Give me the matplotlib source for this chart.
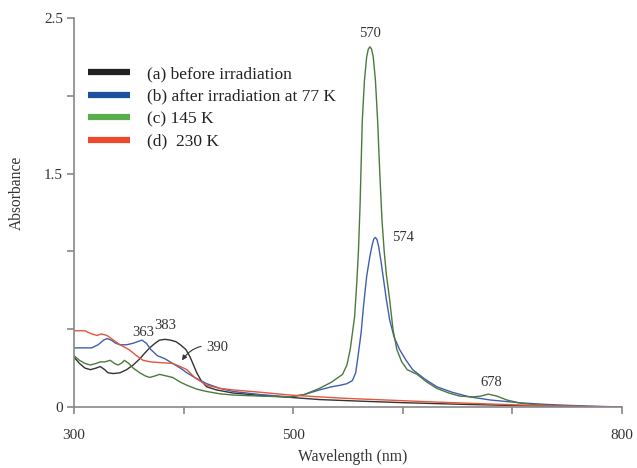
import matplotlib
matplotlib.use("Agg")
import matplotlib.pyplot as plt
from matplotlib.lines import Line2D

plt.rcParams['font.family'] = ['Liberation Serif', 'DejaVu Serif']

# (a) before irradiation
wl_a = [300, 305, 310, 315, 320, 324, 328, 331, 336, 342, 348, 354, 360, 365, 369, 374, 378,
        383, 388, 393, 397, 402, 406, 409, 412, 416, 421, 430, 445, 470, 497, 524, 560, 600,
        650, 700, 750, 800]
abs_a = [0.32, 0.28, 0.25, 0.24, 0.25, 0.26, 0.24, 0.22, 0.215, 0.22, 0.24, 0.27, 0.31, 0.35,
         0.38, 0.41, 0.43, 0.435, 0.43, 0.42, 0.40, 0.37, 0.32, 0.27, 0.22, 0.17, 0.13, 0.11,
         0.09, 0.075, 0.062, 0.048, 0.038, 0.028, 0.018, 0.01, 0.004, 0.0]

# (b) after irradiation at 77 K
wl_b = [300, 308, 316, 322, 327, 330, 334, 338, 342, 348, 354, 358, 362, 366, 370, 376, 383,
        390, 397, 403, 410, 421, 433, 445, 470, 497, 510, 524, 535, 543, 549, 554, 557, 559,
        562, 564, 567, 570, 572, 573.5, 575, 576.5, 578, 580, 582, 585, 588, 592, 597, 603,
        609, 620, 631, 645, 661, 680, 707, 730, 753, 780, 800]
abs_b = [0.38, 0.38, 0.38, 0.40, 0.43, 0.44, 0.43, 0.41, 0.40, 0.40, 0.41, 0.42, 0.43, 0.41,
         0.37, 0.33, 0.31, 0.28, 0.25, 0.22, 0.19, 0.15, 0.12, 0.10, 0.08, 0.065, 0.08, 0.11,
         0.13, 0.14, 0.15, 0.17, 0.22, 0.32, 0.48, 0.64, 0.84, 0.97, 1.04, 1.08, 1.09, 1.075,
         1.03, 0.94, 0.84, 0.69, 0.56, 0.45, 0.37, 0.30, 0.24, 0.18, 0.13, 0.095, 0.065, 0.045,
         0.027, 0.017, 0.01, 0.004, 0.0]

# (c) 145 K
wl_c = [300, 305, 310, 315, 320, 324, 328, 333, 337, 340, 343, 346, 350, 354, 360, 365, 369,
        374, 378, 384, 390, 397, 403, 412, 421, 433, 445, 470, 497, 510, 524, 535, 545, 549,
        552, 556, 558, 559.5, 561, 563, 565, 567, 568.5, 570, 571.5, 573, 575, 577, 579, 581,
        583, 585, 588, 591, 594.5, 599, 604, 613, 622, 631, 642, 652, 664, 671, 678, 686,
        695, 707, 720, 737, 760, 800]
abs_c = [0.33, 0.30, 0.28, 0.27, 0.28, 0.29, 0.29, 0.30, 0.28, 0.27, 0.28, 0.30, 0.28, 0.25,
         0.22, 0.20, 0.19, 0.20, 0.21, 0.20, 0.19, 0.16, 0.14, 0.115, 0.10, 0.085, 0.077, 0.07,
         0.065, 0.08, 0.12, 0.16, 0.21, 0.27, 0.37, 0.58, 0.80, 1.0, 1.3, 1.84, 2.1, 2.25, 2.30,
         2.315, 2.30, 2.25, 2.1, 1.84, 1.5, 1.2, 1.0, 0.85, 0.69, 0.50, 0.37, 0.29, 0.24, 0.21,
         0.16, 0.12, 0.09, 0.07, 0.065, 0.07, 0.083, 0.07, 0.045, 0.025, 0.015, 0.008, 0.003,
         0.0]

# (d) 230 K
wl_d = [300, 310, 316, 321, 325, 330, 336, 342, 350, 357, 363, 370, 380, 390, 397, 403, 410,
        421, 433, 445, 470, 497, 524, 550, 585, 630, 677, 720, 760, 800]
abs_d = [0.49, 0.49, 0.47, 0.46, 0.47, 0.46, 0.43, 0.40, 0.37, 0.33, 0.30, 0.29, 0.285, 0.28,
         0.26, 0.24, 0.19, 0.14, 0.12, 0.11, 0.095, 0.077, 0.065, 0.055, 0.045, 0.032, 0.02,
         0.01, 0.004, 0.0]

labels = ["(a) before irradiation", "(b) after irradiation at 77 K", "(c) 145 K", "(d)  230 K"]
line_colors = ["#333333", "#3f5fae", "#4b7a3c", "#e4553a"]
legend_colors = ["#222222", "#1d4f9c", "#5aae4a", "#ec4a2c"]

fig = plt.figure(figsize=(6.37, 4.68), dpi=100)
ax = fig.add_axes([0.1162, 0.1303, 0.8603, 0.8312])

for wl, a, c in zip([wl_a, wl_b, wl_c, wl_d], [abs_a, abs_b, abs_c, abs_d], line_colors):
    ax.plot(wl, a, color=c, lw=1.0)

ax.set_xlim(300, 800)
ax.set_ylim(0, 2.5)
ax.set_xticks([300, 400, 500, 600, 700, 800])
ax.set_xticklabels(["300", "", "500", "", "", "800"])
ax.set_yticks([0, 0.5, 1.0, 1.5, 2.0, 2.5])
ax.set_yticklabels(["0", "", "", "1.5", "", "2.5"])

for s in ["top", "right"]:
    ax.spines[s].set_visible(False)
for s in ["left", "bottom"]:
    ax.spines[s].set_color("#888888")
    ax.spines[s].set_linewidth(1.2)
ax.tick_params(axis="x", direction="out", length=5, width=1.2, color="#888888",
               pad=11, labelsize=11, labelcolor="#333333")
ax.tick_params(axis="y", direction="out", length=5, width=1.2, color="#888888",
               pad=3, labelsize=11, labelcolor="#333333")

fig.text(353 / 637, 1 - 457 / 468, "Wavelength (nm)", ha="center", va="center",
         fontsize=11.3, color="#333333")
fig.text(17 / 637, 1 - 193 / 468, "Absorbance", ha="center", va="center", rotation=90,
         fontsize=11.2, color="#333333")

# peak labels
ax.text(570, 2.36, "570", ha="center", va="bottom", fontsize=10.5, color="#333333")
ax.text(590, 1.09, "574", ha="left", va="center", fontsize=10.5, color="#333333")
ax.text(363, 0.44, "363", ha="center", va="bottom", fontsize=10.5, color="#333333")
ax.text(383, 0.485, "383", ha="center", va="bottom", fontsize=10.5, color="#333333")
ax.text(681, 0.115, "678", ha="center", va="bottom", fontsize=10.5, color="#333333")
ax.annotate("390", xy=(398.5, 0.30), xytext=(421, 0.385), fontsize=10.5, color="#333333",
            ha="left", va="center",
            arrowprops=dict(arrowstyle="-|>", color="#333333", lw=0.8, mutation_scale=7,
                            shrinkA=2, shrinkB=0, connectionstyle="arc3,rad=0.35"))

handles = [Line2D([0], [0], color=c, lw=4.5, solid_capstyle="butt") for c in legend_colors]
ax.legend(handles, labels, loc="upper left", bbox_to_anchor=(0.004, 0.908), frameon=False,
          fontsize=12.5, handlelength=2.41, handletextpad=0.98, labelspacing=0.37,
          borderaxespad=0.3, labelcolor="#222222")

fig.savefig("out.png", dpi=100)
